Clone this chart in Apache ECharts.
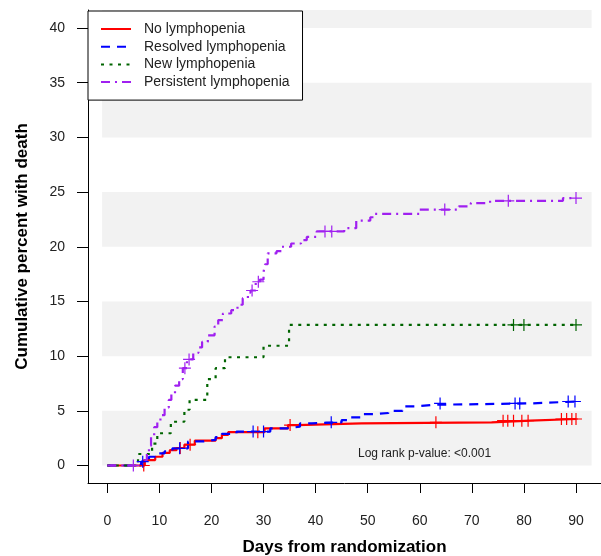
<!DOCTYPE html>
<html>
<head>
<meta charset="utf-8">
<script src="https://cdn.jsdelivr.net/npm/echarts@6/dist/echarts.min.js"></script>
<style>
  html, body { margin: 0; padding: 0; background: #fff; }
  #chart { width: 601px; height: 556px; }
</style>
</head>
<body>
<div id="chart"></div>
<script>
  // cumulative percent with death, step points [day, percent]
  var noLymph = [[0,0],[7.2,0.5],[9.2,0.8],[10.6,1.15],[12,1.4],[13.3,1.6],[14.8,1.9],[16.8,2.27],
    [20.8,2.5],[22,2.8],[23.2,3.05],[30.2,3.4],[34.7,3.7],[36.4,3.86],[48.8,3.95],[73.8,4.1],[81.2,4.25],[90,4.25]];
  var resolved = [[0,0],[6.5,0.35],[8,0.8],[9.5,1.1],[11,1.3],[12.5,1.57],[15.5,2.2],[18.5,2.35],[20.8,2.6],
    [22,2.9],[24.8,3.1],[31.3,3.4],[34.5,3.55],[37,3.86],[39.3,3.95],[45,4.15],[46.5,4.4],[48.8,4.7],
    [51.2,4.8],[54,5.0],[56.7,5.4],[59.3,5.55],[62.5,5.68],[81.5,5.85],[90,5.85]];
  var newLymph = [[0,0],[5.9,1.05],[8.6,2.0],[9.6,2.95],[12.2,4.0],[14.8,5.1],[15.8,6.0],[19.2,7.9],
    [20.8,8.9],[22.6,9.9],[30,10.95],[34.9,12.85],[90,12.85]];
  var persistent = [[0,0],[7,0.5],[7.6,1.1],[8,1.8],[8.4,2.7],[9,3.5],[9.6,4.1],[10.2,4.6],[11,5.3],
    [11.8,6.0],[12.3,6.6],[13,7.3],[13.8,7.9],[14.5,8.9],[15.3,9.7],[16.5,10.3],[17.5,10.8],[18.2,11.3],
    [19.3,11.9],[20.6,12.7],[21.3,13.3],[22.2,13.9],[23.8,14.2],[25,14.7],[26,15.3],[27,15.8],[27.5,16.0],
    [28.5,16.8],[29.3,17.0],[30,17.7],[30.3,18.4],[30.8,19.4],[32.5,19.6],[33.5,20.0],[35.3,20.3],
    [37.2,20.6],[38.3,20.9],[40.2,21.4],[45.5,21.7],[47.8,22.4],[50.5,22.7],[51.3,23.0],[60,23.4],
    [67.5,23.7],[69.8,24.0],[73.5,24.2],[87.5,24.45],[90,24.45]];

  // censoring marks [day, percent]
  var noLymphCens = [[7,0],[14,1.6],[15.9,1.9],[28.9,3.05],[35.1,3.7],[63.1,3.95],[76,4.1],[76.9,4.1],
    [78,4.1],[79.6,4.1],[80.8,4.1],[87.2,4.25],[88.2,4.25],[89.2,4.25],[90,4.25]];
  var resolvedCens = [[6.8,0.35],[13.9,1.57],[28,3.1],[30,3.1],[43,3.95],[63.9,5.68],[78.3,5.68],
    [79.2,5.68],[88.5,5.85],[89.8,5.85]];
  var newLymphCens = [[78,12.85],[80,12.85],[90,12.85]];
  var persistentCens = [[5,0],[14.9,8.9],[15.7,9.7],[27.8,16.0],[29,16.8],[41.8,21.4],[43.1,21.4],
    [64.8,23.4],[77,24.2],[90,24.45]];

  var xTicks = [0,10,20,30,40,50,60,70,80,90];
  var yTicks = [0,5,10,15,20,25,30,35,40];
  var bands = [[0,5],[10,15],[20,25],[30,35],[40,41.65]];

  var names = ['No lymphopenia','Resolved lymphopenia','New lymphopenia','Persistent lymphopenia'];
  var colors = ['#ff0000','#0000ff','#006400','#a020f0'];
  var dashes = ['solid',[9,7],[3,5.5],[9,5,2,5]];
  var steps = [noLymph, resolved, newLymph, persistent];
  var cens = [noLymphCens, resolvedCens, newLymphCens, persistentCens];

  var plus = 'path://M45,0H55V45H100V55H55V100H45V55H0V45H45Z';
  var font = 'Liberation Sans, Arial, Helvetica, sans-serif';

  var series = [];
  steps.forEach(function (d, i) {
    var s = {
      name: names[i],
      type: 'line',
      step: 'end',
      data: d,
      symbol: 'none',
      z: 3,
      color: colors[i],
      lineStyle: { color: colors[i], width: 2.2, type: dashes[i] }
    };
    if (i === 0) {
      s.markArea = {
        silent: true,
        itemStyle: { color: '#f2f2f2' },
        data: bands.map(function (b) {
          return [{ coord: [-1, b[0]] }, { coord: [93, b[1]] }];
        })
      };
    }
    series.push(s);
  });
  cens.forEach(function (d, i) {
    series.push({
      name: names[i] + ' censored',
      type: 'scatter',
      data: d,
      symbol: plus,
      symbolSize: 12,
      z: 4,
      itemStyle: { color: colors[i], opacity: 1 }
    });
  });

  var chart = echarts.init(document.getElementById('chart'));
  chart.setOption({
    animation: false,
    grid: { left: 88, right: 0, top: 10, bottom: 73, containLabel: false, outerBoundsMode: 'none' },
    legend: {
      data: names,
      orient: 'vertical',
      left: 88,
      top: 11,
      itemWidth: 30,
      itemHeight: 14,
      itemGap: 3.7,
      padding: [11, 13, 11, 12],
      backgroundColor: '#fff',
      borderColor: '#000',
      borderWidth: 1,
      itemStyle: { color: 'rgba(0,0,0,0)', borderWidth: 0, opacity: 0 },
      textStyle: { fontFamily: font, fontSize: 14, color: '#222', padding: [0, 0, 0, 8] }
    },
    xAxis: {
      type: 'value',
      min: -3.706,
      max: 94.8,
      name: 'Days from randomization',
      nameLocation: 'middle',
      nameGap: 56,
      nameTextStyle: { fontFamily: font, fontSize: 17, fontWeight: 'bold', color: '#000' },
      splitLine: { show: false },
      axisLine: { onZero: false, lineStyle: { color: '#000', width: 1 } },
      axisTick: { customValues: xTicks, length: 10, lineStyle: { color: '#000' } },
      axisLabel: { customValues: xTicks, margin: 31, fontFamily: font, fontSize: 14, color: '#222' }
    },
    yAxis: {
      type: 'value',
      min: -1.6,
      max: 41.65,
      name: 'Cumulative percent with death',
      nameLocation: 'middle',
      nameGap: 57,
      nameTextStyle: { fontFamily: font, fontSize: 17, fontWeight: 'bold', color: '#000' },
      splitLine: { show: false },
      axisLine: { show: true, onZero: false, lineStyle: { color: '#000', width: 1 } },
      axisTick: { show: true, customValues: yTicks, length: 11, lineStyle: { color: '#000' } },
      axisLabel: { customValues: yTicks, margin: 23, fontFamily: font, fontSize: 14, color: '#222' }
    },
    graphic: [{
      type: 'text',
      x: 358,
      y: 454,
      z: 10,
      style: {
        text: 'Log rank p-value: <0.001',
        font: '12px ' + font,
        fill: '#222',
        verticalAlign: 'middle'
      }
    }],
    series: series
  });
</script>
</body>
</html>
